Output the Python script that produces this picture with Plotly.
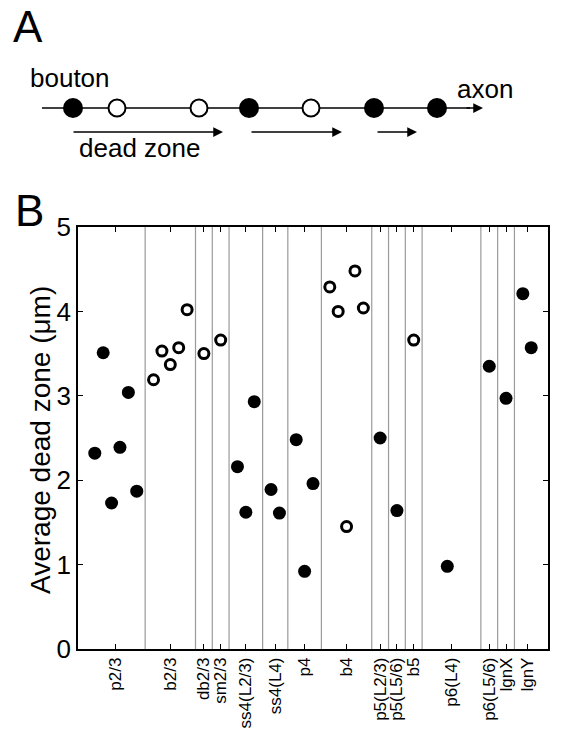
import plotly.graph_objects as go

# ---------------- Data ----------------
# Panel B: cell-type groups and tick positions (x in slot units)
groups = ["p2/3", "b2/3", "db2/3", "sm2/3", "ss4(L2/3)", "ss4(L4)", "p4", "b4",
          "p5(L2/3)", "p5(L5/6)", "b5", "p6(L4)", "p6(L5/6)", "lgnX", "lgnY"]
group_pos = [4.5, 11, 15, 17, 20, 23.5, 27, 32, 36, 38, 40, 44.5, 49, 51, 53.5]
separators = [8, 14, 16, 18, 22, 25, 29, 35, 37, 39, 41, 48, 50, 52]

# filled circles
filled_x = [2, 3, 4, 5, 6, 7, 19, 20, 21, 23, 24, 26, 27, 28, 36, 38, 44, 49, 51, 53, 54]
filled_y = [2.32, 3.51, 1.73, 2.39, 3.04, 1.87, 2.16, 1.62, 2.93, 1.89, 1.61,
            2.48, 0.92, 1.96, 2.50, 1.64, 0.98, 3.35, 2.97, 4.21, 3.57]
# open circles
open_x = [9, 10, 11, 12, 13, 15, 17, 30, 31, 32, 33, 34, 40]
open_y = [3.19, 3.53, 3.37, 3.57, 4.02, 3.50, 3.66, 4.29, 4.00, 1.45, 4.48, 4.04, 3.66]

y_ticks = [0, 1, 2, 3, 4, 5]

# Panel A: schematic axon with boutons
bouton_x = [73, 117, 199, 249, 311, 374, 437]
bouton_filled = [True, False, False, True, False, True, True]
dead_zone_arrows = [(72, 223), (250, 342), (376, 417)]

FONT = "Liberation Sans, Arial, Helvetica, sans-serif"
W, H = 570, 729

fig = go.Figure()

# axon line (drawn first, below the boutons)
axon_y = 108
fig.add_trace(go.Scatter(x=[42, 470], y=[axon_y, axon_y], mode="lines",
                         line=dict(color="black", width=1.5),
                         xaxis="x2", yaxis="y2", showlegend=False))

# separators
sx, sy = [], []
for s in separators:
    sx += [s, s, None]
    sy += [0, 5, None]
fig.add_trace(go.Scatter(x=sx, y=sy, mode="lines",
                         line=dict(color="#9a9a9a", width=1.2),
                         hoverinfo="skip", showlegend=False))

fig.add_trace(go.Scatter(x=filled_x, y=filled_y, mode="markers",
                         marker=dict(symbol="circle", size=13, color="black",
                                     line=dict(width=0)),
                         showlegend=False))
fig.add_trace(go.Scatter(x=open_x, y=open_y, mode="markers",
                         marker=dict(symbol="circle", size=10, color="white",
                                     line=dict(width=3, color="black")),
                         showlegend=False))

# Panel A boutons
fig.add_trace(go.Scatter(
    x=[b for b, f in zip(bouton_x, bouton_filled) if f],
    y=[axon_y] * sum(bouton_filled), mode="markers",
    marker=dict(symbol="circle", size=20, color="black"),
    xaxis="x2", yaxis="y2", showlegend=False))
fig.add_trace(go.Scatter(
    x=[b for b, f in zip(bouton_x, bouton_filled) if not f],
    y=[axon_y] * (len(bouton_filled) - sum(bouton_filled)), mode="markers",
    marker=dict(symbol="circle", size=17, color="white",
                line=dict(width=2, color="black")),
    xaxis="x2", yaxis="y2", showlegend=False))

annotations = []
annotations.append(dict(x=483, y=axon_y, ax=465, ay=axon_y, xref="x2", yref="y2",
                        axref="x2", ayref="y2", showarrow=True, arrowhead=2,
                        arrowsize=1.3, arrowwidth=1.5, arrowcolor="black", text=""))
for t0, t1 in dead_zone_arrows:
    annotations.append(dict(x=t1, y=132, ax=t0, ay=132, xref="x2", yref="y2",
                            axref="x2", ayref="y2", showarrow=True, arrowhead=2,
                            arrowsize=1.3, arrowwidth=1.5, arrowcolor="black", text=""))

def txt(s, x, y, size, **kw):
    d = dict(text=s, x=x / W, y=1 - y / H, xref="paper", yref="paper",
             showarrow=False, xanchor="left", yanchor="middle",
             font=dict(family=FONT, size=size, color="black"))
    d.update(kw)
    return d

annotations += [
    txt("A", 11, 27, 44),
    txt("B", 13, 211, 44),
    txt("bouton", 28, 78, 26),
    txt("axon", 455, 89, 26),
    txt("dead zone", 77, 148, 26),
    dict(text="Average dead zone (μm)", x=41 / W, y=1 - 440 / H, xref="paper",
         yref="paper", showarrow=False, textangle=-90, xanchor="center",
         yanchor="middle", font=dict(family=FONT, size=28, color="black")),
]

fig.update_layout(
    width=W, height=H, margin=dict(l=0, r=0, t=0, b=0, autoexpand=False),
    paper_bgcolor="white", plot_bgcolor="white",
    showlegend=False,
    xaxis=dict(domain=[78 / W, 548 / W], range=[0, 56], tickmode="array",
               tickvals=group_pos, ticktext=groups, tickangle=-90,
               ticks="inside", ticklen=5, tickwidth=1.2, tickcolor="black",
               showline=True, linecolor="black", linewidth=1.5, mirror="ticks",
               showgrid=False, zeroline=False, automargin=False,
               tickfont=dict(family=FONT, size=17, color="black")),
    yaxis=dict(domain=[1 - 649 / H, 1 - 227 / H], range=[0, 5], tickmode="array",
               tickvals=y_ticks, ticks="inside", ticklen=5, tickwidth=1.2,
               tickcolor="black", showline=True, linecolor="black", linewidth=1.5,
               mirror="ticks", showgrid=False, zeroline=False, automargin=False,
               tickfont=dict(family=FONT, size=26, color="black")),
    xaxis2=dict(domain=[0, 1], range=[0, W], visible=False, anchor="y2",
                automargin=False),
    yaxis2=dict(domain=[0.7, 1], range=[0.3 * H, 0], visible=False, anchor="x2",
                automargin=False),
    annotations=annotations,
)

fig.write_html("out.html")
